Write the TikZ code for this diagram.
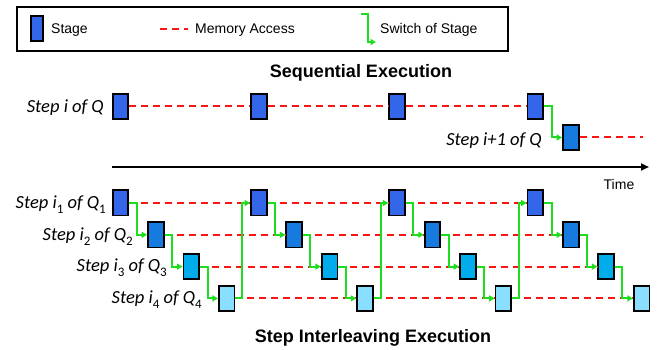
\documentclass[tikz,border=0pt]{standalone}
\usepackage{fontspec}
\setmainfont{Liberation Sans}
\newfontfamily\labfont{Carlito}
\usetikzlibrary{arrows.meta}

\definecolor{cone}{RGB}{51,102,232}
\definecolor{ctwo}{RGB}{22,122,222}
\definecolor{cthree}{RGB}{0,172,236}
\definecolor{cfour}{RGB}{138,222,255}
\definecolor{memred}{RGB}{250,20,20}
\definecolor{swgreen}{RGB}{30,220,30}

% lowered upright subscript for the step labels
\newcommand\sbx[1]{\raisebox{-0.28em}{\upshape\fontsize{13}{13}\selectfont #1}}

\tikzset{
  stg/.style={draw=black, line width=1.8pt, minimum width=15.7pt, minimum height=25.2pt, inner sep=0pt},
  mem/.style={draw=memred, line width=2pt, dash pattern=on 7pt off 5pt},
  sw/.style={draw=swgreen, line width=2pt, -{Triangle[length=5.5pt,width=6pt]}},
  lab/.style={font=\labfont\itshape\fontsize{18.5}{18.5}\selectfont, inner sep=0pt},
  ttl/.style={font=\bfseries\fontsize{18}{18}\selectfont, inner sep=0pt},
  leg/.style={font=\fontsize{14}{14}\selectfont, inner sep=0pt, anchor=west}
}

\begin{document}
\begin{tikzpicture}[x=1pt,y=-1pt]
\useasboundingbox (0,0) rectangle (670,350);

% ---- legend ----
\node[draw=black, line width=1.5pt, minimum width=491pt, minimum height=44pt, inner sep=0pt] (legend) at (262.5,29) {};
\node[stg, fill=cone, minimum width=12pt] (lstage) at (37,28.5) {};
\node[leg] (lstagetxt) at (51,30) {Stage};
\coordinate (lm0) at (160,29);
\coordinate (lm1) at (188,29);
\draw[mem] (lm0) -- (lm1);
\node[leg] (lmemtxt) at (195,30) {Memory Access};
\coordinate (lg0) at (361,14);
\coordinate (lg1) at (376,42);
\draw[sw] (lg0) -| ++(7,14) |- (lg1);
\node[leg] (lswtxt) at (380,30) {Switch of Stage};

% ---- sequential execution ----
\node[ttl] (seqtitle) at (361,73) {Sequential Execution};
\foreach \g in {0,...,3}
  \node[stg, fill=cone] (s\g) at ({120.5+138.3*\g},106.5) {};
\node[stg, fill=ctwo] (s4) at (570.9,137.5) {};
\foreach \g/\h in {0/1,1/2,2/3}
  \draw[mem] (s\g.east) -- (s\h.west);
\coordinate (send) at (643,137.5);
\draw[mem] (s4.east) -- (send);
\draw[sw] (s3.east) -- ++(8,0) |- (s4.west);
\node[lab, anchor=east] (seqlab1) at (104,107.5) {Step i of Q};
\node[lab, anchor=east] (seqlab2) at (542,140.5) {Step i+1 of Q};

% ---- time axis ----
\coordinate (t0) at (112,167);
\coordinate (t1) at (649,167);
\draw[line width=2pt, -{Triangle[length=8pt,width=7pt]}] (t0) -- (t1);
\node[font=\fontsize{14}{14}\selectfont, inner sep=0pt] (timelab) at (619,184.5) {Time};

% ---- step interleaving execution ----
\foreach \g in {0,...,3}
  \foreach \r/\col in {0/cone,1/ctwo,2/cthree,3/cfour}
    \node[stg, fill=\col] (b\g\r) at ({120.5+138.3*\g+35.4*\r},{203+31.8*\r}) {};

\foreach \r in {0,...,3}
  \foreach \g/\h in {0/1,1/2,2/3}
    \draw[mem] (b\g\r.east) -- (b\h\r.west);

\foreach \g in {0,...,3}
  \foreach \r/\s in {0/1,1/2,2/3}
    \draw[sw] (b\g\r.east) -- ++(7.5,0) |- (b\g\s.west);
\foreach \g/\h in {0/1,1/2,2/3}
  \draw[sw] (b\g3.east) -- ++(7,0) |- (b\h0.west);

\node[lab, anchor=east] (il1) at (106,205) {Step i\sbx{1} of Q\sbx{1}};
\node[lab, anchor=east] (il2) at (133,236.5) {Step i\sbx{2} of Q\sbx{2}};
\node[lab, anchor=east] (il3) at (167,268) {Step i\sbx{3} of Q\sbx{3}};
\node[lab, anchor=east] (il4) at (202,299.5) {Step i\sbx{4} of Q\sbx{4}};

\node[ttl] (iltitle) at (373,338) {Step Interleaving Execution};
\end{tikzpicture}
\end{document}
